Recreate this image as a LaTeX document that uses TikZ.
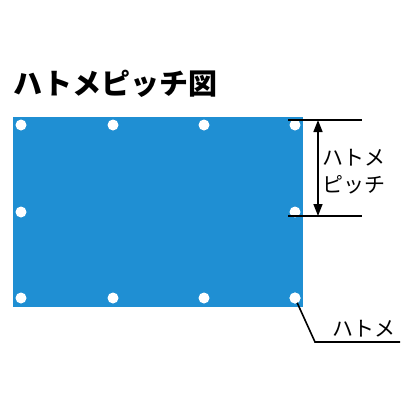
\documentclass[tikz,border=0pt]{standalone}
\usepackage{fontspec}
\newfontfamily\jpfont{Noto Sans CJK JP}
\newfontfamily\jpbold{Noto Sans CJK JP Black}
\usetikzlibrary{arrows.meta}
\definecolor{sheet}{HTML}{1F8FD3}
\tikzset{
  grommet/.style={circle,fill=white,inner sep=0pt,minimum size=11pt},
  dimline/.style={line width=1.6pt,black},
  lbl/.style={font=\jpfont\fontsize{21}{22}\selectfont,inner sep=0pt}
}
\begin{document}
\begin{tikzpicture}[x=1pt,y=-1pt]
\useasboundingbox (0,0) rectangle (416,416);
\node[anchor=west,inner sep=0pt,font=\jpbold\fontsize{29}{30}\selectfont] (title) at (13,84) {ハトメピッチ図};
\fill[sheet] (13,117) rectangle (303,307);
\foreach \x/\n in {21/a,113/b,204/c,295/d}{
  \node[grommet] (t\n) at (\x,125) {};
  \node[grommet] (b\n) at (\x,298) {};
}
\node[grommet] (ml) at (21,212) {};
\node[grommet] (mr) at (295,212) {};
% pitch dimension
\coordinate (l1a) at (288,120);
\coordinate (l1b) at (362,120);
\coordinate (l2a) at (288,216);
\coordinate (l2b) at (362,216);
\coordinate (ar1) at (318,120);
\coordinate (ar2) at (318,216);
\draw[dimline] (l1a) -- (l1b);
\draw[dimline] (l2a) -- (l2b);
\draw[dimline,{Triangle[length=12pt,width=9pt]}-{Triangle[length=12pt,width=9pt]}] (ar1) -- (ar2);
\node[lbl,anchor=west] (p1) at (322,158) {ハトメ};
\node[lbl,anchor=west] (p2) at (322,185) {ピッチ};
% grommet leader
\coordinate (bend) at (315,342);
\coordinate (lend) at (400,342);
\draw[dimline] (bd.center) -- (bend) -- (lend);
\node[grommet] at (bd) {};
\node[lbl,anchor=south west] (hl) at (332,337) {ハトメ};
\end{tikzpicture}
\end{document}
